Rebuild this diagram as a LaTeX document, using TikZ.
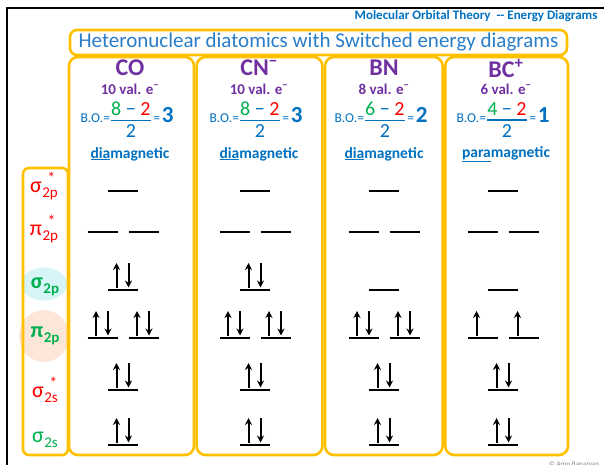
\documentclass[tikz,border=0pt]{standalone}
\usepackage{fontspec}
\setmainfont{Carlito}
\usetikzlibrary{arrows.meta}
\definecolor{org}{HTML}{FFC000}
\definecolor{blu}{HTML}{0070C0}
\definecolor{tblu}{HTML}{2A7DC9}
\definecolor{pur}{HTML}{7030A0}
\definecolor{grn}{HTML}{00B050}
\definecolor{rd}{HTML}{FF0000}
\definecolor{cyanbg}{HTML}{D7F5F6}
\definecolor{peach}{HTML}{FBE6D8}
\newcommand{\fs}[1]{\fontsize{#1}{#1}\selectfont}
% B.O. formula
\newcommand{\bofmt}[3]{{\fs{13.5}B.O.=}$\displaystyle{\hbox{\fs{20}\color{grn}#1 \color{blu}− \color{rd}#2}\above1.3pt\hbox{\fs{20}2}}$\,{\fs{13.5}=}\,{\bfseries\fs{23}#3}}
% orbital label: letter, star, subscript
\newcommand{\orbl}[3]{#1\kern0.5pt\rlap{\raisebox{-5pt}{\fs{15}#3}}\rlap{\raisebox{9pt}{\kern5pt\fs{16}#2}}\phantom{\fs{15}#3}}
% column header: id, x, name, valence, a, b, result, underlined, rest
\newcommand{\colhead}[9]{%
  \node[text=pur,font=\bfseries\fs{24}] (name#1) at (#2,68) {#3};
  \node[text=pur,font=\bfseries\fs{15}] (val#1) at (#2,89) {#4 val. e\textsuperscript{−}};
  \node[text=blu] (bo#1) at (#2-3,120) {\bofmt{#5}{#6}{#7}};
  \node[text=blu,font=\bfseries\fs{15.5}] (mag#1) at (#2,154) {\underline{#8}#9};
}
% single level: x, y, electrons
\newcommand{\lv}[3]{%
  \draw[lev] (#1-15,#2) -- (#1+15,#2);
  \ifcase#3\or
    \draw[eu] (#1-6,#2-2.5) -- (#1-6,#2-27);
  \or
    \draw[eu] (#1-6.5,#2-2.5) -- (#1-6.5,#2-27);
    \draw[eu] (#1+5.5,#2-27) -- (#1+5.5,#2-2.5);
  \fi}
\newcommand{\pilv}[3]{\lv{#1-20.5}{#2}{#3}\lv{#1+20.5}{#2}{#3}}
\newcommand{\levels}[3]{% x, sigma2p electrons, pi2p electrons
  \lv{#1}{191}{0}
  \pilv{#1}{232}{0}
  \lv{#1}{290}{#2}
  \pilv{#1}{338}{#3}
  \lv{#1}{390}{2}
  \lv{#1}{445}{2}}
\begin{document}
\begin{tikzpicture}[x=1pt,y=-1pt,
  box/.style={draw=org,line width=2.6pt,rounded corners=9pt},
  lev/.style={line width=1.8pt,black},
  eu/.style={line width=2pt,black,-{Stealth[length=7pt,width=7pt]}},
  lab/.style={anchor=base,inner sep=0pt}]
\useasboundingbox (0,0) rectangle (604,465);
\draw[line width=2.4pt] (7,475) -- (7,8) -- (615,8);
% background highlights
\fill[cyanbg] (44,284) ellipse [x radius=23, y radius=16.5];
\fill[peach] (44,336) ellipse [x radius=25, y radius=26];
% columns
\draw[box] (69,57) rectangle (194,455);
\draw[box] (196.6,57) rectangle (322.4,455);
\draw[box] (325,57) rectangle (442.6,455);
\draw[box] (445.2,57) rectangle (568,455);
\draw[box,rounded corners=6pt] (23,168) rectangle (68,455);
% title
\draw[box,fill=white,rounded corners=7pt] (70,30) rectangle (567,55);
\node[text=tblu,font=\fs{21}] (title) at (318.5,42.5) {Heteronuclear diatomics with Switched energy diagrams};
\node[anchor=east,text=blu,font=\bfseries\fs{13}] (top) at (601,16) {Molecular Orbital Theory \ -{}- Energy Diagrams};
% headers
\colhead{1}{130}{CO}{10}{8}{2}{3}{dia}{magnetic}
\colhead{2}{259}{CN\textsuperscript{−}}{10}{8}{2}{3}{dia}{magnetic}
\colhead{3}{384}{BN}{8}{6}{2}{2}{dia}{magnetic}
\colhead{4}{506}{BC\textsuperscript{+}}{6}{4}{2}{1}{para}{magnetic}
% levels
\levels{123}{2}{2}
\levels{255}{2}{2}
\levels{384}{0}{2}
\levels{503}{0}{1}
% orbital labels
\node[lab,text=rd,font=\fs{22}] (l1) at (44,192) {\orbl{σ}{*}{2p}};
\node[lab,text=rd,font=\fs{22}] (l2) at (44,235) {\orbl{π}{*}{2p}};
\node[lab,text=grn,font=\bfseries\fs{22}] (l3) at (45,288) {\orbl{σ}{}{2p}};
\node[lab,text=grn,font=\bfseries\fs{22}] (l4) at (45,337) {\orbl{π}{}{2p}};
\node[lab,text=rd,font=\fs{22}] (l5) at (45,397) {\orbl{σ}{*}{2s}};
\node[lab,text=grn,font=\fs{22}] (l6) at (45,442) {\orbl{σ}{}{2s}};
\node[anchor=north,text=gray,font=\fs{7}] (copy) at (574,458) {© Arpo Banazyan};
\end{tikzpicture}
\end{document}
